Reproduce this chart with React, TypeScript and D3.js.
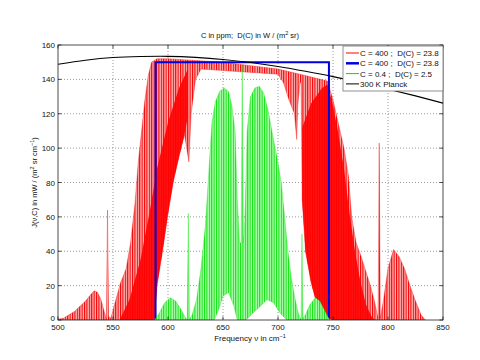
import React from "react";
import * as d3 from "d3";

// ---- data ----
const xTicks = [500, 550, 600, 650, 700, 750, 800, 850];
const yTicks = [0, 20, 40, 60, 80, 100, 120, 140, 160];

// 300 K Planck curve [nu, J]
const planck: [number, number][] = [
  [500, 148.8], [525, 151.1], [550, 152.7], [575, 153.3], [600, 153.4],
  [625, 152.8], [650, 151.6], [675, 149.8], [700, 147.5], [725, 144.7],
  [750, 141.6], [775, 138.1], [800, 134.3], [825, 130.4], [850, 126.2],
];

// idealised blue box spectrum
const boxSpectrum: [number, number][] = [
  [588.7, 0], [588.7, 150], [746.3, 150], [746.3, 0],
];

// C = 400 spectrum: upper envelope of lines
const redUpper: [number, number][] = [
  [500, 0.5], [505, 1], [510, 3], [515, 5], [520, 8], [525, 11], [530, 15], [533, 17],
  [536, 16], [539, 12], [542, 5], [544, 0.5], [545, 64], [546, 2], [548, 1], [551, 8],
  [554, 15], [557, 22], [559, 25], [562, 30], [566, 45], [570, 68], [573, 92], [576, 110],
  [579, 128], [582, 142], [585, 150], [590, 152], [600, 152], [625, 151], [650, 150],
  [675, 148], [700, 146], [720, 143], [745, 139], [750, 128], [755, 114], [760, 100],
  [764, 84], [767, 60], [771, 45], [775, 38], [779, 30], [784, 20], [788, 10], [791, 1],
  [792, 103], [793, 1], [796, 12], [800, 30], [805, 41], [810, 37], [815, 30], [820, 20],
  [825, 11], [830, 3], [834, 0],
];
// C = 400 spectrum: lower envelope (troughs between lines)
const redLower: [number, number][] = [
  [500, 0], [586, 0], [588, 5], [590, 20], [595, 40], [600, 62], [605, 81], [610, 95],
  [615, 108], [619, 92], [621, 120], [625, 140], [630, 146], [700, 143], [705, 138],
  [710, 128], [715, 120], [717, 105], [718, 125], [720, 138], [721, 138], [722, 70],
  [725, 40], [730, 22], [735, 10], [740, 4], [745, 1], [750, 0], [834, 0],
];
// C = 400 spectrum: densely packed (solid-looking) parts, left and right wing
const redDenseLeftUpper: [number, number][] = [
  [556, 0], [565, 12], [575, 35], [583, 62], [590, 88], [600, 115], [610, 135], [618, 146],
];
const redDenseLeftLower: [number, number][] = [
  [556, 0], [588, 0], [590, 20], [595, 40], [600, 62], [605, 81], [610, 95], [615, 108], [618, 118],
];
const redDenseRightUpper: [number, number][] = [
  [722, 112], [730, 126], [740, 135], [745, 137], [750, 125], [755, 108], [760, 88],
  [765, 62], [770, 40], [775, 22], [780, 9], [785, 2], [788, 0],
];
const redDenseRightLower: [number, number][] = [
  [722, 70], [725, 40], [730, 22], [735, 10], [740, 4], [745, 1], [750, 0], [788, 0],
];

// C = 0.4 spectrum: upper envelope
const greenUpper: [number, number][] = [
  [588, 0], [592, 4], [597, 10], [602, 13], [607, 11], [612, 6], [616, 1], [617.5, 0.5],
  [618.5, 62], [619.5, 0.5], [622, 3], [626, 12], [630, 30], [634, 55], [637, 85],
  [640, 115], [643, 127], [647, 133], [651, 135], [655, 133], [658, 125], [661, 110],
  [663, 70], [665, 45], [666.5, 45], [667.5, 148], [668.5, 45], [670, 60], [672, 110],
  [675, 130], [679, 135], [683, 136], [687, 132], [691, 122], [695, 108], [699, 95],
  [703, 80], [706, 60], [709, 40], [712, 25], [715, 14], [718, 5], [720, 1], [721, 1],
  [721.8, 50], [722.6, 1], [725, 3], [729, 9], [734, 13], [738, 11], [742, 6], [746, 1],
  [748, 0],
];
// C = 0.4 spectrum: lower envelope
const greenLower: [number, number][] = [
  [588, 0], [642, 0], [646, 6], [650, 14], [655, 16], [660, 8], [663, 0], [671, 0],
  [677, 4], [684, 8], [690, 12], [696, 10], [702, 4], [708, 0], [748, 0],
];

const legendLabels = [
  "C = 400 ;\u00a0 D(C) = 23.8",
  "C = 400 ;\u00a0 D(C) = 23.8",
  "C = 0.4 ;\u00a0 D(C) = 2.5",
  "300 K Planck",
];
const legendColors = ["#ff0000", "#0000dd", "#00dd00", "#000000"];
const legendWidths = [1, 2.5, 1, 1];

const W = 480, H = 360;
const L = 58, R = 443, T = 45, B = 320;
const FONT = "'Liberation Sans', Arial, Helvetica, sans-serif";

export default function App() {
  const x = d3.scaleLinear().domain([500, 850]).range([L, R]);
  const y = d3.scaleLinear().domain([0, 160]).range([B, T]);

  const line = d3.line<[number, number]>().x(d => x(d[0])).y(d => y(d[1]));
  const smooth = d3.line<[number, number]>().x(d => x(d[0])).y(d => y(d[1])).curve(d3.curveNatural);

  const band = (upper: [number, number][], lower: [number, number][]) => {
    const up = line(upper) || "";
    const lo = [...lower].reverse().map(d => `L${x(d[0])},${y(d[1])}`).join("");
    return up + lo + "Z";
  };

  const redPath = band(redUpper, redLower);
  const redDenseL = band(redDenseLeftUpper, redDenseLeftLower);
  const redDenseR = band(redDenseRightUpper, redDenseRightLower);
  const greenPath = band(greenUpper, greenLower);

  return (
    <svg width={W} height={H} style={{ position: "absolute", left: 0, top: 0, background: "#fff" }}
      fontFamily={FONT}>
      <defs>
        <pattern id="redStripes" width={2.4} height={4} patternUnits="userSpaceOnUse">
          <rect width={2.4} height={4} fill="#ffb8b8" />
          <rect width={1.1} height={4} fill="#f00000" />
        </pattern>
        <pattern id="greenStripes" width={2.4} height={4} patternUnits="userSpaceOnUse">
          <rect width={2.4} height={4} fill="#b8ffb8" />
          <rect width={1.1} height={4} fill="#10e010" />
        </pattern>
        <clipPath id="plotClip">
          <rect x={L} y={T} width={R - L} height={B - T} />
        </clipPath>
      </defs>

      <rect x={L} y={T} width={R - L} height={B - T} fill="#fff" />

      {/* grid */}
      {xTicks.slice(1, -1).map(t => (
        <line key={"gx" + t} x1={x(t)} x2={x(t)} y1={T} y2={B} stroke="#555" strokeWidth={0.6} strokeDasharray="1,2" />
      ))}
      {yTicks.slice(1, -1).map(t => (
        <line key={"gy" + t} x1={L} x2={R} y1={y(t)} y2={y(t)} stroke="#555" strokeWidth={0.6} strokeDasharray="1,2" />
      ))}

      <g clipPath="url(#plotClip)">
        <path d={redPath} fill="url(#redStripes)" stroke="#f00000" strokeWidth={0.35} />
        <path d={redDenseL} fill="#ff0000" opacity={0.9} />
        <path d={redDenseR} fill="#ff0000" opacity={0.9} />
        <path d={line(boxSpectrum) || ""} fill="none" stroke="#0000dd" strokeWidth={2} />
        <path d={greenPath} fill="url(#greenStripes)" stroke="#10e010" strokeWidth={0.35} />
        <path d={smooth(planck) || ""} fill="none" stroke="#000" strokeWidth={1.1} />
      </g>

      {/* axes box */}
      <rect x={L} y={T} width={R - L} height={B - T} fill="none" stroke="#222" strokeWidth={0.8} />
      {xTicks.map(t => (
        <g key={"tx" + t}>
          <line x1={x(t)} x2={x(t)} y1={B} y2={B - 3.5} stroke="#222" strokeWidth={0.8} />
          <line x1={x(t)} x2={x(t)} y1={T} y2={T + 3.5} stroke="#222" strokeWidth={0.8} />
          <text x={x(t)} y={B + 9.5} fontSize={8} textAnchor="middle" fill="#111">{t}</text>
        </g>
      ))}
      {yTicks.map(t => (
        <g key={"ty" + t}>
          <line x1={L} x2={L + 3.5} y1={y(t)} y2={y(t)} stroke="#222" strokeWidth={0.8} />
          <line x1={R} x2={R - 3.5} y1={y(t)} y2={y(t)} stroke="#222" strokeWidth={0.8} />
          <text x={L - 3} y={t === 0 ? y(t) + 1 : y(t) + 3} fontSize={8} textAnchor="end" fill="#111">{t}</text>
        </g>
      ))}

      {/* title */}
      <text x={250} y={38} fontSize={7.5} textAnchor="middle" fill="#111">
        {"C in ppm;\u00a0 D(C) in W / (m"}<tspan dy={-3} fontSize={5.5}>2</tspan><tspan dy={3}>{" sr)"}</tspan>
      </text>

      {/* x label */}
      <text x={250} y={341} fontSize={8} textAnchor="middle" fill="#111">
        Frequency ν in cm<tspan dy={-3.5} fontSize={5.5}>−1</tspan>
      </text>

      {/* y label */}
      <text transform={`translate(37,${(T + B) / 2}) rotate(-90)`} fontSize={7.5} textAnchor="middle" fill="#111">
        {"J(ν,C) in mW / (m"}<tspan dy={-3} fontSize={5.5}>2</tspan><tspan dy={3}>{" sr cm"}</tspan><tspan dy={-3} fontSize={5.5}>−1</tspan><tspan dy={3}>)</tspan>
      </text>

      {/* legend */}
      <g>
        <rect x={343} y={46} width={100} height={45} fill="#fff" stroke="#777" strokeWidth={0.8} />
        {legendLabels.map((lab, i) => {
          const ly = 53 + i * 10.3;
          return (
            <g key={"lg" + i}>
              <line x1={346} x2={359} y1={ly} y2={ly} stroke={legendColors[i]} strokeWidth={legendWidths[i]} />
              <text x={360} y={ly + 3} fontSize={8} fill="#111">{lab}</text>
            </g>
          );
        })}
      </g>
    </svg>
  );
}
